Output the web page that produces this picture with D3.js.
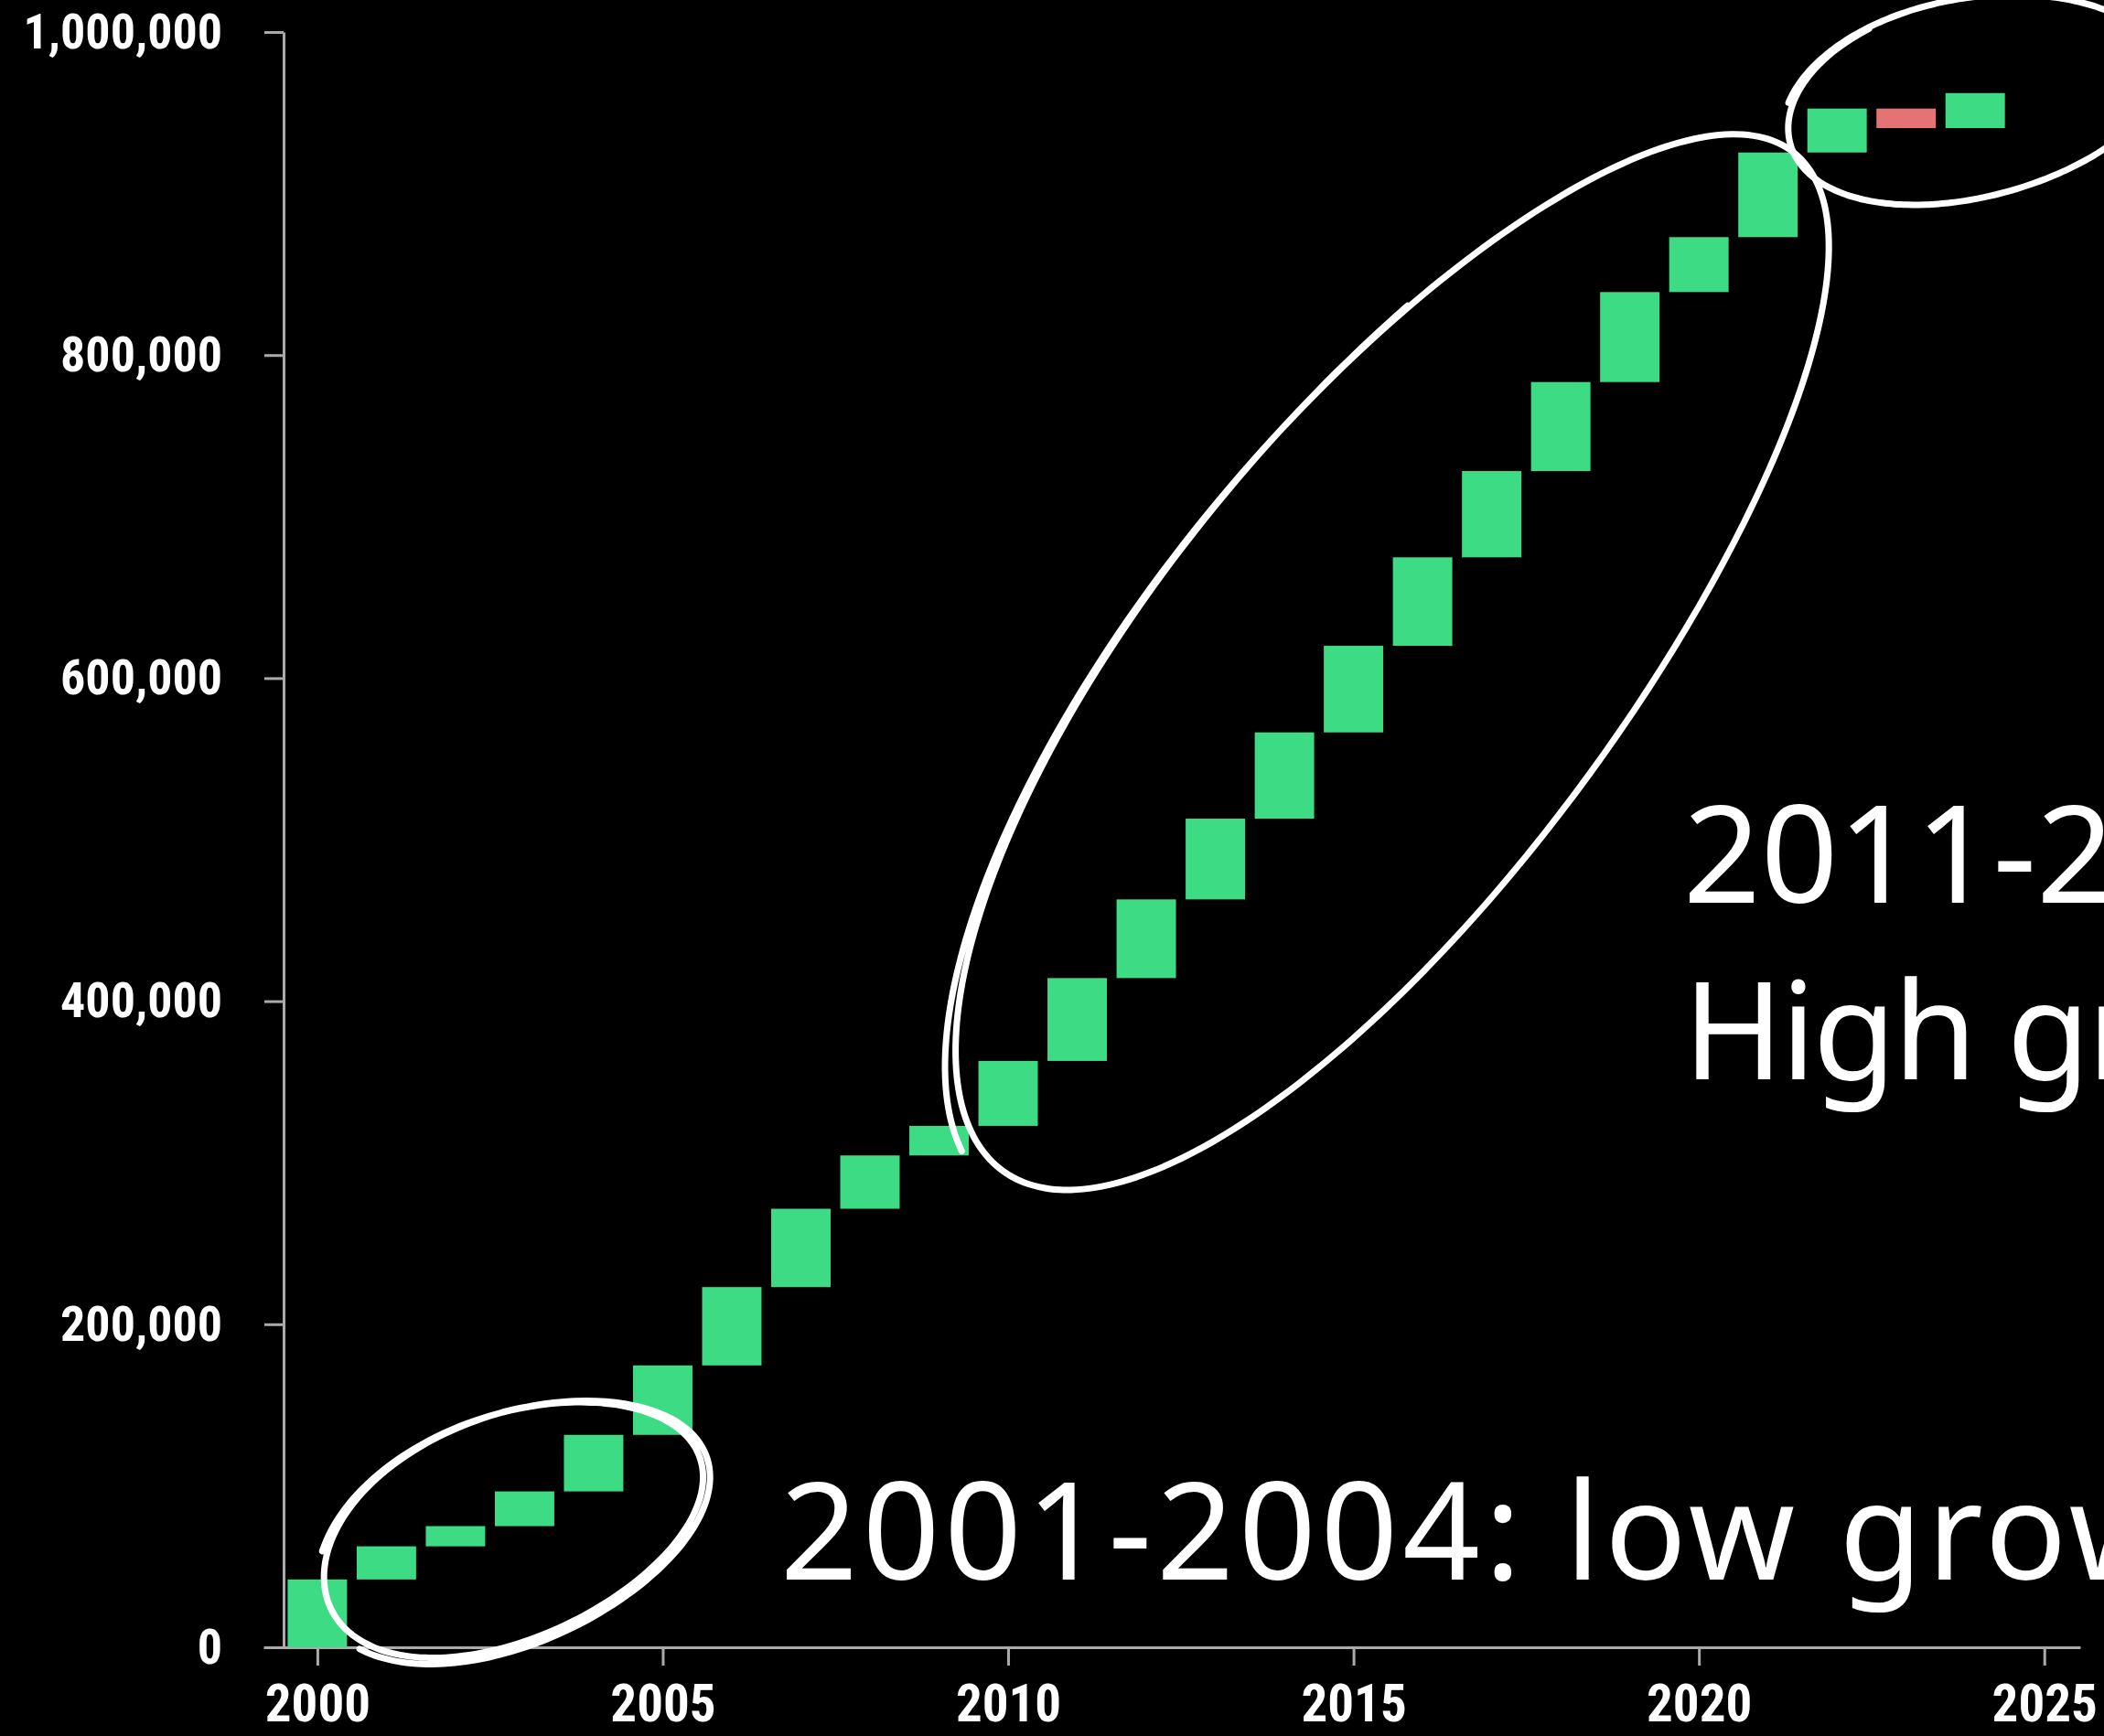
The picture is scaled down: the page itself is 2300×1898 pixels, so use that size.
<!DOCTYPE html>
<html>
<head>
<meta charset="utf-8">
<script src="https://cdn.jsdelivr.net/npm/d3@7"></script>
<style>
  body { margin: 0; background: #000; }
  svg { display: block; }
</style>
</head>
<body>
<script>
// cumulative total at end of each year (waterfall)
const years = [2000, 2001, 2002, 2003, 2004, 2005, 2006, 2007, 2008, 2009, 2010, 2011, 2012,
               2013, 2014, 2015, 2016, 2017, 2018, 2019, 2020, 2021, 2022, 2023, 2024]
const totals = [42000, 62500, 75000, 96500, 131500, 174500, 223000, 271500, 304500, 322800,
                363000, 414300, 463000, 513000, 566400, 620000, 674800, 728200, 783300,
                839000, 873000, 925400, 952600, 940500, 962200]
const xTicks = [2000, 2005, 2010, 2015, 2020, 2025]
const yTicks = [0, 200000, 400000, 600000, 800000, 1000000]

const W = 2300, H = 1898
const upColor = "#3ddc84", downColor = "#e57373"

function setattrs(shape, dict) {
    for (let [prop, val] of Object.entries(dict)) {
        shape.attr(prop, val)
    }
}

const svg = d3.select("body").append("svg")
setattrs(svg, {width: W, height: H})

const x = d3.scaleLinear().domain([1999.22, 2025.52]).range([288, 2274])
const y = d3.scaleLinear().domain([0, 1000000]).range([1801, 35])

const axisFont = "'Liberation Sans Narrow', 'Roboto Condensed', Roboto, sans-serif"

// axes
const gx = svg.append("g").attr("transform", `translate(0,${y(0)})`)
    .call(d3.axisBottom(x).tickValues(xTicks).tickFormat(d3.format("d"))
        .tickSize(20).tickSizeOuter(0).tickPadding(21))
const gy = svg.append("g").attr("transform", `translate(310,0)`)
    .call(d3.axisLeft(y).tickValues(yTicks).tickFormat(d3.format(","))
        .tickSize(21).tickSizeOuter(0).tickPadding(46))

for (let g of [gx, gy]) {
    g.selectAll("path, line").attr("stroke", "#aaa").attr("stroke-width", 3)
    setattrs(g.selectAll("text"), {
        "fill": "#fff", "font-family": axisFont, "font-weight": "bold"
    })
}
gx.selectAll("text").attr("font-size", 57)
gy.selectAll("text").attr("font-size", 54)

// waterfall bars
const bars = years.map((yr, i) => ({
    year: yr,
    from: i === 0 ? 0 : totals[i - 1],
    to: totals[i]
}))
const bw = (x(1) - x(0)) * 0.86

svg.append("g").selectAll("rect").data(bars).join("rect")
    .attr("x", d => x(d.year) - bw / 2)
    .attr("width", bw)
    .attr("y", d => y(Math.max(d.from, d.to)))
    .attr("height", d => Math.abs(y(d.from) - y(d.to)))
    .attr("fill", d => d.to >= d.from ? upColor : downColor)

// hand drawn ellipses around the groups
function sketchEllipse(cx, cy, rx, ry, rot, start, turns, wob) {
    const pts = []
    const n = 200
    const a0 = start, a1 = start + 2 * Math.PI * turns
    const c = Math.cos(rot), s = Math.sin(rot)
    for (let k = 0; k <= n; k++) {
        const t = a0 + (a1 - a0) * k / n
        const f = 1 + wob * Math.sin(t * 0.5 + 0.7) + 0.015 * Math.sin(3 * t + 1)
        const px = rx * f * Math.cos(t), py = ry * f * Math.sin(t)
        pts.push([cx + px * c - py * s, cy + px * s + py * c])
    }
    return d3.line().curve(d3.curveBasis)(pts)
}

const loops = [
    {x0: 2000.8, x1: 2004.8, v: 73000, rx: 222, ry: 124, rot: -22, start: 3.6, turns: 1.85, wob: 0.025},
    {x0: 2010.0, x1: 2021.0, v: 608000, rx: 715, ry: 255, rot: -52, start: 3.3, turns: 1.3, wob: 0.02},
    {x0: 2022.6, x1: 2025.3, v: 958000, rx: 210, ry: 110, rot: -12, start: 3.5, turns: 1.12, wob: 0.02}
]
for (let l of loops) {
    const cx = (x(l.x0) + x(l.x1)) / 2
    svg.append("path")
        .attr("d", sketchEllipse(cx, y(l.v), l.rx, l.ry, l.rot * Math.PI / 180, l.start, l.turns, l.wob))
        .attr("fill", "none").attr("stroke", "#fff").attr("stroke-width", 7)
        .attr("stroke-linecap", "round").attr("stroke-linejoin", "round")
}

// annotations (run off the right edge, as in the original)
const noteFont = "'Noto Sans', 'Open Sans', sans-serif"
const notes = [
    {text: "2001-2004: low growth", x: 853, y: 1727, ls: 5},
    {text: "2011-2021:", x: 1840, y: 987, ls: 0},
    {text: "High growth", x: 1840, y: 1180, ls: -3}
]
svg.append("g").selectAll("text").data(notes).join("text")
    .text(d => d.text)
    .attr("x", d => d.x).attr("y", d => d.y)
    .attr("letter-spacing", d => d.ls)
    .attr("font-family", noteFont).attr("font-size", 148)
    .attr("fill", "#fff")
</script>
</body>
</html>
